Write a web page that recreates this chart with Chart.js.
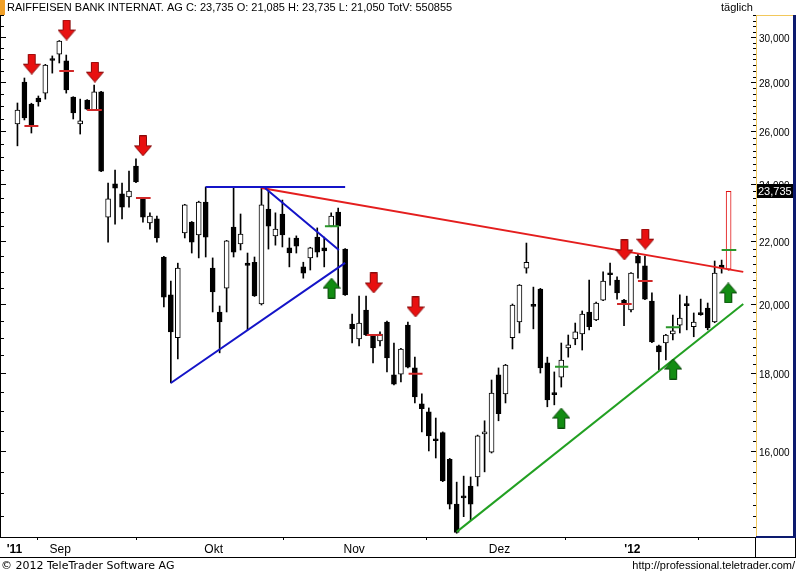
<!DOCTYPE html>
<html>
<head>
<meta charset="utf-8">
<script src="https://cdn.jsdelivr.net/npm/chart.js@4.4.1/dist/chart.umd.min.js"></script>
<style>
  html, body { margin: 0; padding: 0; background: #fff; }
  #wrap { width: 796px; height: 575px; }
</style>
</head>
<body>
<div id="wrap"><canvas id="chart" width="796" height="575"></canvas></div>
<script>
// daily candles, index 0 = first trading day shown (late Aug 2011)
const opens = [26.29,28.02,27.10,27.34,27.55,28.99,29.23,28.93,27.38,26.29,
  27.26,26.85,27.60,22.82,24.00,23.64,23.53,24.66,23.49,22.62,
  22.76,21.48,20.28,19.00,22.28,22.65,22.21,23.35,21.12,19.76,
  20.49,22.48,21.91,21.28,21.31,20.00,23.10,22.18,22.93,21.78,
  22.11,21.16,21.45,22.14,21.78,22.51,23.00,21.74,19.40,18.97,
  19.82,19.08,18.91,19.46,17.96,17.98,19.37,18.15,17.19,16.98,
  16.27,16.45,15.80,14.76,14.92,15.17,15.38,16.42,15.97,17.96,
  17.45,19.00,19.46,21.12,19.95,20.46,18.29,17.45,17.90,18.71,
  18.97,19.11,19.76,19.52,20.12,20.93,20.74,20.12,19.82,21.51,
  21.19,20.09,18.77,18.85,19.11,19.37,19.97,19.32,19.70,19.88,
  19.46,21.22,21.085];
const highs = [27.14,28.19,27.13,27.43,28.78,29.15,29.84,29.19,27.40,27.30,
  27.28,27.89,27.62,24.03,24.51,24.03,24.47,24.93,23.51,22.97,
  22.86,21.50,20.71,21.28,23.27,22.67,23.38,23.89,21.45,19.94,
  22.03,23.89,22.93,21.61,21.48,23.89,23.82,22.97,23.42,22.11,
  22.18,21.31,21.80,22.45,22.14,22.97,23.14,21.76,19.70,20.24,
  20.24,19.10,19.17,19.49,18.85,18.70,19.46,18.45,17.45,17.08,
  16.82,16.47,15.82,15.26,15.40,15.38,16.39,16.75,17.82,18.15,
  18.25,20.00,20.60,21.94,20.52,20.48,18.45,18.04,18.85,19.08,
  19.43,19.79,20.74,20.06,21.00,21.28,20.84,20.14,20.98,21.58,
  21.51,20.34,18.79,19.10,19.67,20.28,20.24,19.73,20.15,20.03,
  21.35,21.38,23.735];
const lows = [25.43,26.45,25.93,27.01,27.30,28.40,28.84,27.55,26.49,25.89,
  26.86,26.83,24.45,21.97,22.58,22.76,23.17,24.05,22.65,22.41,
  21.97,19.91,17.74,18.40,22.11,21.61,21.45,21.48,19.76,18.57,
  19.76,21.48,21.71,19.23,20.23,19.97,21.74,21.87,21.81,21.16,
  21.61,20.80,21.06,21.48,21.16,22.49,20.52,20.26,18.85,18.77,
  19.06,18.29,18.77,18.04,17.69,17.77,18.15,17.21,16.47,16.00,
  15.83,15.27,14.65,14.12,14.48,14.41,15.17,15.50,15.95,16.75,
  17.21,18.68,19.14,20.96,19.26,18.01,17.11,17.16,17.63,18.45,
  18.80,18.65,19.23,19.50,20.10,20.58,20.15,19.35,19.76,20.80,
  20.13,18.86,18.09,18.37,18.94,19.14,19.23,19.03,19.66,19.23,
  19.44,20.96,21.05];
const closes = [26.85,26.53,26.25,27.18,28.75,28.95,29.82,27.68,26.73,26.41,
  26.89,27.60,24.47,23.46,23.85,23.17,23.74,24.07,22.82,22.86,
  22.11,20.21,19.17,21.12,23.25,21.97,23.35,22.14,20.37,19.46,
  22.01,21.64,22.24,21.21,20.25,23.25,22.51,22.41,22.21,21.61,
  21.84,20.96,21.78,21.64,21.68,22.86,22.51,20.28,19.26,19.43,
  19.08,18.71,19.11,18.43,17.71,18.68,18.17,17.37,17.06,16.37,
  16.25,15.29,14.76,14.14,14.90,14.76,16.37,16.44,17.47,16.93,
  18.23,19.97,20.58,21.31,19.93,18.15,17.29,17.43,18.37,18.80,
  19.17,19.70,19.32,20.03,20.71,20.91,20.34,20.03,20.96,21.28,
  20.15,18.88,18.60,19.08,19.20,19.58,19.95,19.46,19.68,19.29,
  20.96,21.12,23.735];

// axis labels
const monthPos = [-0.43, 6.14, 28.14, 48.3, 69.14, 88.2];
const monthLabels = ["'11", "Sep", "Okt", "Nov", "Dez", "'12"];
const yTicks = [16, 18, 20, 22, 24, 26, 28, 30];
const lastPrice = 23.735;

// trend lines
const redTrendX = [35, 104.1], redTrendY = [23.85, 21.00];
const greenTrendX = [63, 104.1], greenTrendY = [14.15, 20.00];
const blueStartX = [27, 22, 35.5], blueStartY = [23.89, 17.74, 23.85];
const blueEndX = [47, 47, 46.1], blueEndY = [23.89, 21.29, 21.71];

// signal marks
const redMarkStart = [1, 6, 10, 17, 50.1, 56.1, 86, 89];
const redMarkEnd = [3, 8.1, 12.1, 19.1, 52.3, 58.1, 88.1, 91.1];
const redMarkLevel = [26.21, 28.49, 26.85, 23.49, 19.08, 17.99, 20.00, 20.71];
const greenMarkStart = [44.1, 77.1, 93, 101];
const greenMarkEnd = [46.1, 79, 95, 103.1];
const greenMarkLevel = [22.51, 18.18, 19.31, 21.71];

// arrows
const downArrowX = [2.05, 7.05, 11.1, 18, 51.1, 57.1, 87.05, 90.05];
const downArrowY = [28.79, 30.32, 28.44, 25.43, 20.65, 19.91, 21.71, 22.07];
const upArrowX = [45.05, 78, 94.05, 101.95];
const upArrowY = [20.49, 16.82, 18.12, 20.34];

const XMIN = (2 - 14.5) / 7, XMAX = (756 - 14.5) / 7;

function arrowImage(down, fill, stroke) {
  const c = document.createElement('canvas');
  c.width = 18; c.height = 21;
  const g = c.getContext('2d');
  g.beginPath();
  if (down) {
    g.moveTo(5.5, 0.5); g.lineTo(12.5, 0.5); g.lineTo(12.5, 10.5); g.lineTo(17.5, 10.5);
    g.lineTo(9, 20.5); g.lineTo(0.5, 10.5); g.lineTo(5.5, 10.5);
  } else {
    g.moveTo(9, 0.5); g.lineTo(17.5, 10.5); g.lineTo(12.5, 10.5); g.lineTo(12.5, 20.5);
    g.lineTo(5.5, 20.5); g.lineTo(5.5, 10.5); g.lineTo(0.5, 10.5);
  }
  g.closePath();
  g.fillStyle = fill; g.fill();
  g.strokeStyle = stroke; g.lineWidth = 1; g.stroke();
  return c;
}

function segments(xs1, xs2, ys1, ys2) {
  const out = [];
  for (let i = 0; i < xs1.length; i++) {
    out.push({ x: xs1[i], y: ys1[i] }, { x: xs2[i], y: ys2[i] }, { x: xs2[i] + 0.01, y: null });
  }
  return out;
}

const n = opens.length;
const isLast = i => i === n - 1;
const bodyData = opens.map((o, i) => ({ x: i, y: [o, closes[i]] }));
const wickData = opens.map((o, i) => ({ x: i, y: [lows[i], highs[i]] }));
const bodyFill = opens.map((o, i) => isLast(i) ? '#ffffff' : (closes[i] > o ? '#ffffff' : '#000000'));
const bodyLine = opens.map((o, i) => isLast(i) ? '#e01010' : '#000000');

const fmt = v => v.toFixed(3).replace('.', ',');

const decor = {
  id: 'decor',
  beforeDraw(chart) {
    const c = chart.ctx;
    c.save();
    c.fillStyle = '#ffffff';
    c.fillRect(0, 0, chart.width, chart.height);
    c.restore();
  },
  afterDraw(chart) {
    const c = chart.ctx;
    const a = chart.chartArea;
    const ys = chart.scales.y;
    c.save();
    // header
    c.fillStyle = '#f0a028';
    c.fillRect(0, 0, 5, 15);
    c.fillStyle = '#000';
    c.font = '11px "Liberation Sans", Arial, sans-serif';
    c.textBaseline = 'middle';
    c.textAlign = 'left';
    c.fillText('RAIFFEISEN BANK INTERNAT. AG C: 23,735 O: 21,085 H: 23,735 L: 21,050 TotV: 550855', 7, 7.5);
    c.fillText('täglich', 721, 8);
    // frame
    c.strokeStyle = '#000';
    c.lineWidth = 1;
    c.beginPath();
    c.moveTo(0.5, a.top); c.lineTo(0.5, a.bottom);
    c.moveTo(0, a.bottom + 0.5); c.lineTo(796, a.bottom + 0.5);
    c.moveTo(0, 557.5); c.lineTo(796, 557.5);
    c.moveTo(755.5, a.bottom); c.lineTo(755.5, 557.5);
    c.moveTo(795.5, a.bottom); c.lineTo(795.5, 557.5);
    c.stroke();
    c.strokeStyle = '#f2c85b';
    c.beginPath();
    c.moveTo(a.right, a.top + 0.5); c.lineTo(793, a.top + 0.5);
    c.stroke();
    c.fillStyle = '#0c1a6e';
    c.fillRect(793, a.top, 3, a.bottom - a.top + 1);
    c.fillRect(a.right, a.bottom - 1, 796 - a.right, 2);
    // tick marks on both edges
    c.strokeStyle = '#000';
    c.beginPath();
    for (let v = 14.25; v <= 31; v += 0.25) {
      const y = Math.round(ys.getPixelForValue(v)) + 0.5;
      const major = Math.abs(v / 2 - Math.round(v / 2)) < 1e-6;
      const half = Math.abs(v * 2 - Math.round(v * 2)) < 1e-6;
      c.moveTo(a.right - (major ? 5 : 3), y); c.lineTo(a.right, y);
      if (half) { c.moveTo(1, y); c.lineTo(major ? 6 : 4, y); }
    }
    c.stroke();
    // last price box
    const py = Math.round(ys.getPixelForValue(lastPrice));
    c.fillStyle = '#000';
    c.fillRect(a.right + 1, py - 7, 793 - a.right - 1, 14);
    c.fillStyle = '#fff';
    c.font = '11px "Liberation Sans", Arial, sans-serif';
    c.fillText(fmt(lastPrice), a.right + 2, py + 1);
    // footer
    c.fillStyle = '#000';
    c.font = '11px "DejaVu Sans", Verdana, sans-serif';
    c.fillText('\u00a9 2012 TeleTrader Software AG', 1, 566);
    c.textAlign = 'right';
    c.font = '11px "Liberation Sans", Arial, sans-serif';
    c.fillText('http://professional.teletrader.com/', 795, 566);
    c.restore();
  }
};

new Chart(document.getElementById('chart'), {
  data: {
    datasets: [
      {
        type: 'bar', data: wickData, grouped: false, barThickness: 1,
        backgroundColor: bodyLine, borderWidth: 0, order: 5
      },
      {
        type: 'bar', data: bodyData, grouped: false, barThickness: 5, minBarLength: 2,
        backgroundColor: bodyFill, borderColor: bodyLine, borderWidth: 1, borderSkipped: false, order: 4
      },
      {
        type: 'line', data: segments(blueStartX, blueEndX, blueStartY, blueEndY),
        borderColor: '#1414c8', borderWidth: 2, pointRadius: 0, spanGaps: false, order: 3
      },
      {
        type: 'line', data: segments([redTrendX[0]], [redTrendX[1]], [redTrendY[0]], [redTrendY[1]]),
        borderColor: '#e41e1e', borderWidth: 2, pointRadius: 0, order: 3
      },
      {
        type: 'line', data: segments([greenTrendX[0]], [greenTrendX[1]], [greenTrendY[0]], [greenTrendY[1]]),
        borderColor: '#22a022', borderWidth: 2, pointRadius: 0, order: 3
      },
      {
        type: 'line', data: segments(redMarkStart, redMarkEnd, redMarkLevel, redMarkLevel),
        borderColor: '#d02828', borderWidth: 2, pointRadius: 0, spanGaps: false, order: 2
      },
      {
        type: 'line', data: segments(greenMarkStart, greenMarkEnd, greenMarkLevel, greenMarkLevel),
        borderColor: '#2a962a', borderWidth: 2, pointRadius: 0, spanGaps: false, order: 2
      },
      {
        type: 'scatter', data: downArrowX.map((x, i) => ({ x, y: downArrowY[i] })),
        pointStyle: arrowImage(true, '#e81010', '#8a0a0a'), order: 1
      },
      {
        type: 'scatter', data: upArrowX.map((x, i) => ({ x, y: upArrowY[i] })),
        pointStyle: arrowImage(false, '#128c12', '#0a4a0a'), order: 1
      }
    ]
  },
  options: {
    responsive: false,
    animation: false,
    devicePixelRatio: 1,
    layout: { padding: { left: 2, top: 15, right: 2, bottom: 18 } },
    plugins: { legend: { display: false }, tooltip: { enabled: false } },
    scales: {
      x: {
        type: 'linear', min: XMIN, max: XMAX, offset: false,
        afterBuildTicks: s => { s.ticks = monthPos.map(v => ({ value: v })); },
        afterFit: s => { s.height = 20; },
        border: { display: false },
        grid: { display: true, drawOnChartArea: false, drawTicks: true, tickLength: 3, color: '#000' },
        ticks: {
          autoSkip: false, maxRotation: 0, padding: 2, color: '#000',
          font: ctx => ({ family: '"Liberation Sans", Arial, sans-serif', size: 12,
            weight: (ctx.index === 0 || ctx.index === monthLabels.length - 1) ? 'bold' : 'normal' }),
          callback: (v, i) => monthLabels[i]
        }
      },
      y: {
        type: 'logarithmic', position: 'right', min: 14.04, max: 31.02,
        afterBuildTicks: s => { s.ticks = yTicks.map(v => ({ value: v })); },
        afterFit: s => { s.width = 38; },
        border: { display: true, color: '#f2c85b', width: 1 },
        grid: { display: false, drawTicks: false },
        ticks: {
          autoSkip: false, padding: 3, labelOffset: 2, color: '#000',
          font: { family: '"Liberation Sans", Arial, sans-serif', size: 10 },
          callback: v => fmt(v)
        }
      }
    }
  },
  plugins: [decor]
});
</script>
</body>
</html>
